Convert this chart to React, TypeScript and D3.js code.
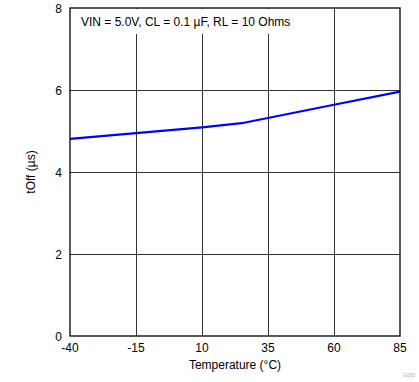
import React from "react";
import * as d3 from "d3";

const temps = [-40, -15, 10, 25, 60, 85];
const toff = [4.81, 4.95, 5.09, 5.19, 5.64, 5.96];
const xTicks = [-40, -15, 10, 35, 60, 85];
const yTicks = [0, 2, 4, 6, 8];
const annotation = "VIN = 5.0V, CL = 0.1 µF, RL = 10 Ohms";
const xLabel = "Temperature (°C)";
const yLabel = "tOff (µs)";

export default function App() {
  const W = 419, H = 382;
  const L = 70, R = 400, T = 8, B = 336;
  const x = d3.scaleLinear().domain([-40, 85]).range([L, R]);
  const y = d3.scaleLinear().domain([0, 8]).range([B, T]);
  const line = d3.line<number>().x((_, i) => x(temps[i])).y((d) => y(d));
  const font = "'Liberation Sans', Arial, sans-serif";
  return (
    <svg width={W} height={H} style={{ position: "absolute", left: 0, top: 0 }} fontFamily={font}>
      <rect x={0} y={0} width={W} height={H} fill="#fff" />
      {xTicks.slice(1, -1).map((t) => (
        <line key={"gx" + t} x1={x(t)} x2={x(t)} y1={T} y2={B} stroke="#333" strokeWidth={1} shapeRendering="crispEdges" />
      ))}
      {yTicks.slice(1, -1).map((t) => (
        <line key={"gy" + t} x1={L} x2={R} y1={y(t)} y2={y(t)} stroke="#333" strokeWidth={1} shapeRendering="crispEdges" />
      ))}
      <rect x={L + 1} y={T + 1} width={226} height={25} fill="#fff" />
      <text x={81} y={26} fontSize={12} fill="#000">{annotation}</text>
      <path d={line(toff) || ""} fill="none" stroke="#0000ff" strokeWidth={2.2} />
      <rect x={L} y={T} width={R - L} height={B - T} fill="none" stroke="#000" strokeWidth={1.3} />
      {yTicks.map((t) => (
        <text key={"ty" + t} x={62} y={y(t) + 4.5} fontSize={12} textAnchor="end">{t}</text>
      ))}
      {xTicks.map((t) => (
        <text key={"tx" + t} x={x(t)} y={352} fontSize={12} textAnchor="middle">{t}</text>
      ))}
      <text x={(L + R) / 2} y={369} fontSize={12} textAnchor="middle">{xLabel}</text>
      <text transform={`translate(35, ${(T + B) / 2}) rotate(-90)`} fontSize={12} textAnchor="middle">{yLabel}</text>
      <text x={415} y={377} fontSize={5} fill="#aaa" textAnchor="end">G000</text>
    </svg>
  );
}
